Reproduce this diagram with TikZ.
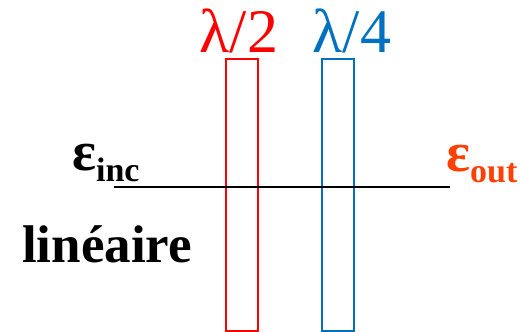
\documentclass[tikz,border=0pt]{standalone}
\usepackage{fontspec}
\setmainfont{Liberation Serif}
\definecolor{halfred}{RGB}{255,0,0}
\definecolor{quartblue}{RGB}{0,112,192}
\definecolor{outorange}{RGB}{255,64,0}
\tikzset{
  plate/.style={draw, line width=2pt, minimum width=32pt, minimum height=272pt, inner sep=0pt},
  platelabel/.style={font=\fontsize{62}{62}\selectfont, inner sep=0pt, anchor=base},
  fieldlabel/.style={font=\bfseries, inner sep=0pt, anchor=base west},
}
\newcommand{\fieldname}[1]{{\fontsize{56}{56}\selectfont ε}\raisebox{-11pt}{\fontsize{34}{34}\selectfont #1}}
\begin{document}
\begin{tikzpicture}[x=1pt,y=-1pt]
        \useasboundingbox (0,0) rectangle (520,332);
        \coordinate (inc) at (114,187);
        \coordinate (out) at (450,187);
        \node[plate, halfred] (half) at (242,195) {};
        \node[plate, quartblue] (quarter) at (338,195) {};
        \draw[line width=2pt] (inc) -- (out);
        \node[platelabel, halfred] (halflabel) at (239,52) {λ/2};
        \node[platelabel, quartblue] (quarterlabel) at (352,52) {λ/4};
        \node[fieldlabel] (inclabel) at (72,170) {\fieldname{inc}};
        \node[fieldlabel, outorange] (outlabel) at (446,171) {\fieldname{out}};
        \node[fieldlabel, font=\bfseries\fontsize{53}{53}\selectfont] (mode) at (22,262) {linéaire};
    \end{tikzpicture}
\end{document}
